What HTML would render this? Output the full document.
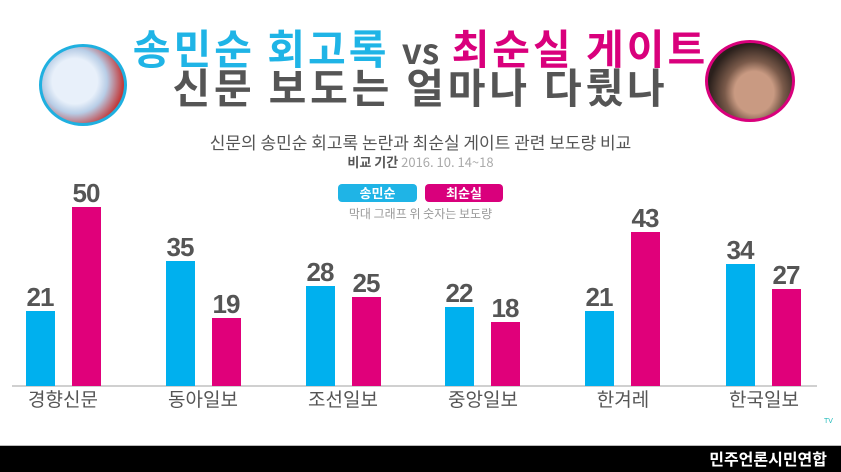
<!DOCTYPE html>
<html><head><meta charset="utf-8"><style>
body{margin:0;width:841px;height:472px;background:#fff;position:relative;overflow:hidden;font-family:"Liberation Sans","Noto Sans CJK KR",sans-serif}
.a{position:absolute;white-space:nowrap}
.t{font-family:"Noto Sans CJK KR",sans-serif;font-weight:700;font-size:41px;left:0;width:841px;text-align:center;letter-spacing:3px}
.b{position:absolute;width:29px}
.bl{background:#00b0ee}.pk{background:#e0007a}
.n{position:absolute;width:60px;text-align:center;font-family:"Liberation Sans",sans-serif;font-weight:bold;font-size:26px;color:#555;letter-spacing:-1px}
.c{position:absolute;width:110px;text-align:center;font-family:"Noto Sans CJK KR",sans-serif;font-size:19px;color:#555;top:385px}
</style></head><body>
<div class="a t" style="top:21px;line-height:50px"><span style="color:#1fb4e6">송민순 회고록</span> <span style="color:#555;font-size:35px;letter-spacing:0">vs</span> <span style="color:#d9007c">최순실 게이트</span></div>
<div class="a t" style="top:60px;line-height:50px;color:#555;letter-spacing:3.8px">신문 보도는 얼마나 다뤘나</div>
<div class="a" style="left:39px;top:44px;width:88px;height:82px;border-radius:50%;border:3px solid #1fb0e0;box-sizing:border-box;background:radial-gradient(circle at 40% 45%,#e8f0fa 0 35%,#b8cde6 50%,#c23a3a 75%)"></div>
<div class="a" style="left:705px;top:40px;width:90px;height:82px;border-radius:50%;border:3px solid #d9007c;box-sizing:border-box;background:radial-gradient(ellipse at 55% 65%,#c99a82 0 30%,#7a5a4a 45%,#2a201c 70%)"></div>
<div class="a" style="left:0;width:841px;text-align:center;top:129px;font-family:'Noto Sans CJK KR',sans-serif;font-size:17px;color:#555">신문의 송민순 회고록 논란과 최순실 게이트 관련 보도량 비교</div>
<div class="a" style="left:0;width:841px;text-align:center;top:152px;font-size:13px;color:#555;font-family:'Noto Sans CJK KR',sans-serif"><b>비교 기간</b> <span style="color:#aaa">2016. 10. 14~18</span></div>
<div class="a" style="left:338px;top:184px;width:79px;height:18px;background:#1fb4e6;border-radius:4px;color:#fff;font-size:13px;text-align:center;line-height:18px;font-weight:bold;font-family:'Noto Sans CJK KR',sans-serif">송민순</div>
<div class="a" style="left:425px;top:184px;width:78px;height:18px;background:#d9007c;border-radius:4px;color:#fff;font-size:13px;text-align:center;line-height:18px;font-weight:bold;font-family:'Noto Sans CJK KR',sans-serif">최순실</div>
<div class="a" style="left:0;width:841px;text-align:center;top:205px;font-size:12px;color:#999;font-family:'Noto Sans CJK KR',sans-serif">막대 그래프 위 숫자는 보도량</div>
<div class="a" style="left:12px;top:385px;width:805px;height:2px;background:#d0d0d0"></div>
<div class="b bl" style="left:26px;top:311px;height:75px"></div><div class="n" style="left:10px;top:282px">21</div>
<div class="b pk" style="left:72px;top:207px;height:179px"></div><div class="n" style="left:56px;top:178px">50</div>
<div class="b bl" style="left:166px;top:261px;height:125px"></div><div class="n" style="left:150px;top:232px">35</div>
<div class="b pk" style="left:212px;top:318px;height:68px"></div><div class="n" style="left:196px;top:289px">19</div>
<div class="b bl" style="left:306px;top:286px;height:100px"></div><div class="n" style="left:290px;top:257px">28</div>
<div class="b pk" style="left:352px;top:297px;height:89px"></div><div class="n" style="left:336px;top:268px">25</div>
<div class="b bl" style="left:445px;top:307px;height:79px"></div><div class="n" style="left:429px;top:278px">22</div>
<div class="b pk" style="left:491px;top:322px;height:64px"></div><div class="n" style="left:475px;top:293px">18</div>
<div class="b bl" style="left:585px;top:311px;height:75px"></div><div class="n" style="left:569px;top:282px">21</div>
<div class="b pk" style="left:631px;top:232px;height:154px"></div><div class="n" style="left:615px;top:203px">43</div>
<div class="b bl" style="left:726px;top:264px;height:122px"></div><div class="n" style="left:710px;top:235px">34</div>
<div class="b pk" style="left:772px;top:289px;height:97px"></div><div class="n" style="left:756px;top:260px">27</div>
<div class="c" style="left:8px">경향신문</div>
<div class="c" style="left:148px">동아일보</div>
<div class="c" style="left:288px">조선일보</div>
<div class="c" style="left:428px">중앙일보</div>
<div class="c" style="left:568px">한겨레</div>
<div class="c" style="left:709px">한국일보</div>
<div class="a" style="left:824px;top:418px;font-size:7px;color:#2bb">TV</div>
<div class="a" style="left:0;top:445px;width:841px;height:1px;background:#bbb"></div>
<div class="a" style="left:0;top:446px;width:841px;height:26px;background:#000"></div>
<div class="a" style="right:14px;top:446px;line-height:24px;color:#fff;font-size:16px;font-weight:bold;font-family:'Noto Sans CJK KR',sans-serif">민주언론시민연합</div>
</body></html>
